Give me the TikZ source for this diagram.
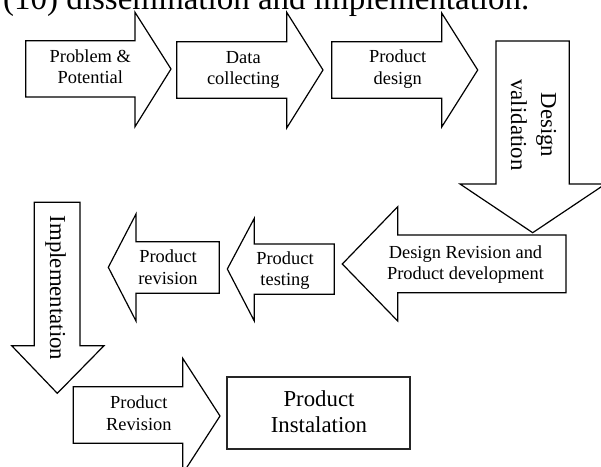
\documentclass[tikz,border=0pt]{standalone}
\usepackage{fontspec}
\setmainfont{Liberation Serif}
\begin{document}
\begin{tikzpicture}[x=1pt,y=-1pt,
  shp/.style={draw=black, line width=1.2pt, fill=white, line join=miter},
  boxshp/.style={draw=black!85, line width=1.8pt, fill=white},
  lbl/.style={font=\fontsize{18.4}{21.3}\selectfont, align=center, anchor=base, inner sep=0pt},
  lblbig/.style={font=\fontsize{22.8}{26}\selectfont, align=center, anchor=base, inner sep=0pt}]
\useasboundingbox (0,0) rectangle (601,466);
\clip (0,0) rectangle (601,466);
\fill[white] (0,0) rectangle (601,466);
% top cut text
\node[anchor=base west, inner sep=0pt, font=\fontsize{33}{36}\selectfont] (cap) at (3,9) {(10) dissemination and implementation.};
% row 1 arrows (right)
\draw[shp] (25.7,40.7) -- (135,40.7) -- (135,12.3) -- (171,69) -- (135,126.7) -- (135,97) -- (25.7,97) -- cycle;
\draw[shp] (176.7,41.7) -- (286.7,41.7) -- (286.7,12.3) -- (323,70) -- (286.7,128) -- (286.7,98.3) -- (176.7,98.3) -- cycle;
\draw[shp] (331.7,41.7) -- (441.7,41.7) -- (441.7,13) -- (477.7,70) -- (441.7,127) -- (441.7,98.3) -- (331.7,98.3) -- cycle;
% design validation (down)
\draw[shp] (496,41) -- (569.3,41) -- (569.3,184) -- (605.4,184) -- (532.7,232.7) -- (460,184) -- (496,184) -- cycle;
% row 2 arrows (left)
\draw[shp] (566,235) -- (397.7,235) -- (397.7,206.7) -- (342.3,264) -- (397.7,321) -- (397.7,292.7) -- (566,292.7) -- cycle;
\draw[shp] (334.3,244) -- (254.3,244) -- (254.3,218.3) -- (227.3,269) -- (254.3,321) -- (254.3,294.3) -- (334.3,294.3) -- cycle;
\draw[shp] (219.3,241.7) -- (136,241.7) -- (136,214) -- (108.3,267.3) -- (136,321) -- (136,293.3) -- (219.3,293.3) -- cycle;
% implementation (down)
\draw[shp] (34.3,202.3) -- (80,202.3) -- (80,345.7) -- (104,345.7) -- (57.3,393.3) -- (11.7,345.7) -- (34.3,345.7) -- cycle;
% product revision (right)
\draw[shp] (73.3,386.7) -- (182.7,386.7) -- (182.7,358.3) -- (220,416) -- (182.7,473.7) -- (182.7,443.3) -- (73.3,443.3) -- cycle;
% product instalation box
\draw[boxshp] (227.3,376.7) rectangle (410,449);
% labels (base anchor = baseline of last line)
\node[lbl] (pp) at (90.3,83.3) {Problem \&\\Potential};
\node[lbl] (dc) at (243.3,84.3) {Data\\collecting};
\node[lbl] (pd) at (397.7,84) {Product\\design};
\node[lblbig, rotate=-90, font=\fontsize{22.8}{30}\selectfont] (dv) at (511,125) {Design\\validation};
\node[lbl] (dr) at (465.5,279.5) {Design Revision and\\Product development};
\node[lbl] (pt) at (285,285.7) {Product\\testing};
\node[lbl] (pr) at (168,284) {Product\\revision};
\node[lblbig, rotate=-90] (im) at (50,288) {Implementation};
\node[lbl] (pR) at (138.8,430) {Product\\Revision};
\node[lblbig] (pi) at (319,432.7) {Product\\Instalation};
\end{tikzpicture}
\end{document}
